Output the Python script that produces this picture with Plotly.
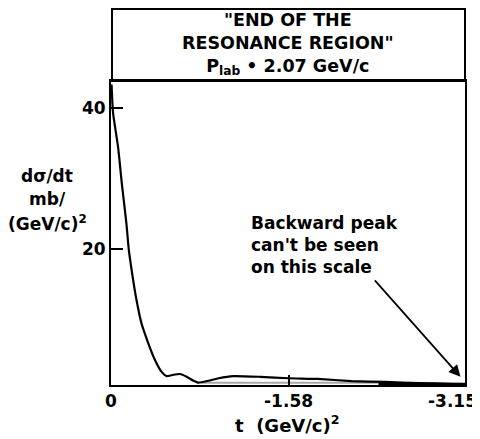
import plotly.graph_objects as go

t_vals = [-0.005, -0.018, -0.063, -0.098, -0.137, -0.158, -0.188, -0.227, -0.271, -0.331,
          -0.391, -0.451, -0.495, -0.555, -0.615, -0.674, -0.734, -0.779, -0.868, -0.958,
          -1.09, -1.33, -1.58, -1.84, -2.14, -2.44, -2.74, -3.03, -3.15]
dsig_vals = [43.3, 39.3, 34.4, 29.0, 23.6, 19.9, 16.5, 12.7, 9.4, 6.6,
             4.2, 2.5, 1.9, 2.1, 2.2, 1.8, 1.25, 0.97, 1.25, 1.6,
             1.9, 1.8, 1.6, 1.5, 1.2, 1.07, 0.92, 0.78, 0.64]

# faint band drawn along the axis
band_t = [-0.80, -2.38]
band_y = [0.95, 0.95]
dark_t = [-2.38, -3.15]
dark_y = [0.85, 0.72]

x_ticks = [0, -1.58, -3.15]
x_ticktext = ["0", "-1.58", ""]   # last label placed by hand so it is not cut off
last_tick_label = "-3.15"
y_ticks = [20, 40]

FONT = "DejaVu Sans"
# page body adds 8 px around the figure; reference pixel -> paper coords
def px(x):
    return (x - 111) / 354

def py(y):
    return (385 - y) / 304

fig = go.Figure()
fig.add_trace(go.Scatter(x=band_t, y=band_y, mode="lines",
                         line=dict(color="#a8a8a8", width=2)))
fig.add_trace(go.Scatter(x=dark_t, y=dark_y, mode="lines",
                         line=dict(color="black", width=3.5)))
fig.add_trace(go.Scatter(x=t_vals, y=dsig_vals, mode="lines",
                         line=dict(color="black", width=2.2, shape="spline", smoothing=0.5)))

tick_font = dict(family=FONT, size=17, color="black", weight="bold")
fig.update_xaxes(range=[0, -3.15], tickvals=x_ticks, ticktext=x_ticktext,
                 ticks="inside", ticklen=10, tickwidth=1.5, tickcolor="black",
                 showline=True, linecolor="black", linewidth=2, mirror=True,
                 showgrid=False, zeroline=False, tickfont=tick_font)
fig.update_yaxes(range=[0.64, 43.8], tickvals=y_ticks,
                 ticks="inside", ticklen=12, tickwidth=1.5, tickcolor="black",
                 showline=True, linecolor="black", linewidth=2, mirror=True,
                 showgrid=False, zeroline=False, tickfont=tick_font)

fig.add_annotation(text=last_tick_label, xref="paper", yref="paper", x=px(479), y=py(401),
                   xanchor="right", yanchor="middle", showarrow=False, font=tick_font)

# title box above the plot
fig.add_shape(type="rect", xref="paper", yref="paper", x0=px(112), x1=1.0,
              y0=1.0, y1=py(9), line=dict(color="black", width=2))

fig.add_annotation(text="\"END OF THE<br>RESONANCE REGION\"<br>P<sub>lab</sub> \u2022 2.07 GeV/c",
                   xref="paper", yref="paper", x=px(288), y=py(44),
                   xanchor="center", yanchor="middle", align="center", showarrow=False,
                   font=dict(family=FONT, size=17.5, color="black", weight="bold"))

# y-axis label
ylab_lines = ["d\u03c3/dt", "mb/", "(GeV/c)<sup>2</sup>"]
ylab_py = [176, 199, 223]
for txt, yy in zip(ylab_lines, ylab_py):
    fig.add_annotation(text=txt, xref="paper", yref="paper", x=px(47), y=py(yy),
                       xanchor="center", yanchor="middle", showarrow=False,
                       font=dict(family=FONT, size=17, color="black", weight="bold"))

# x-axis label
fig.add_annotation(text="t\u00a0 (GeV/c)<sup>2</sup>", xref="paper", yref="paper",
                   x=px(287), y=py(424), xanchor="center", yanchor="middle",
                   showarrow=False,
                   font=dict(family=FONT, size=18, color="black", weight="bold"))

# note with arrow
fig.add_annotation(text="Backward peak<br>can't be seen<br>on this scale",
                   xref="paper", yref="paper", x=px(249), y=py(245),
                   xanchor="left", yanchor="middle", align="left", showarrow=False,
                   font=dict(family=FONT, size=17, color="black", weight="bold"))
fig.add_annotation(x=-3.11, y=1.8, ax=-87, ay=-98, text="", showarrow=True,
                   arrowhead=2, arrowsize=1.3, arrowwidth=1.8, arrowcolor="black")

fig.update_layout(width=472, height=431, showlegend=False,
                  margin=dict(l=103, r=15, t=73, b=54),
                  paper_bgcolor="white", plot_bgcolor="white")

fig.write_html("out.html")
